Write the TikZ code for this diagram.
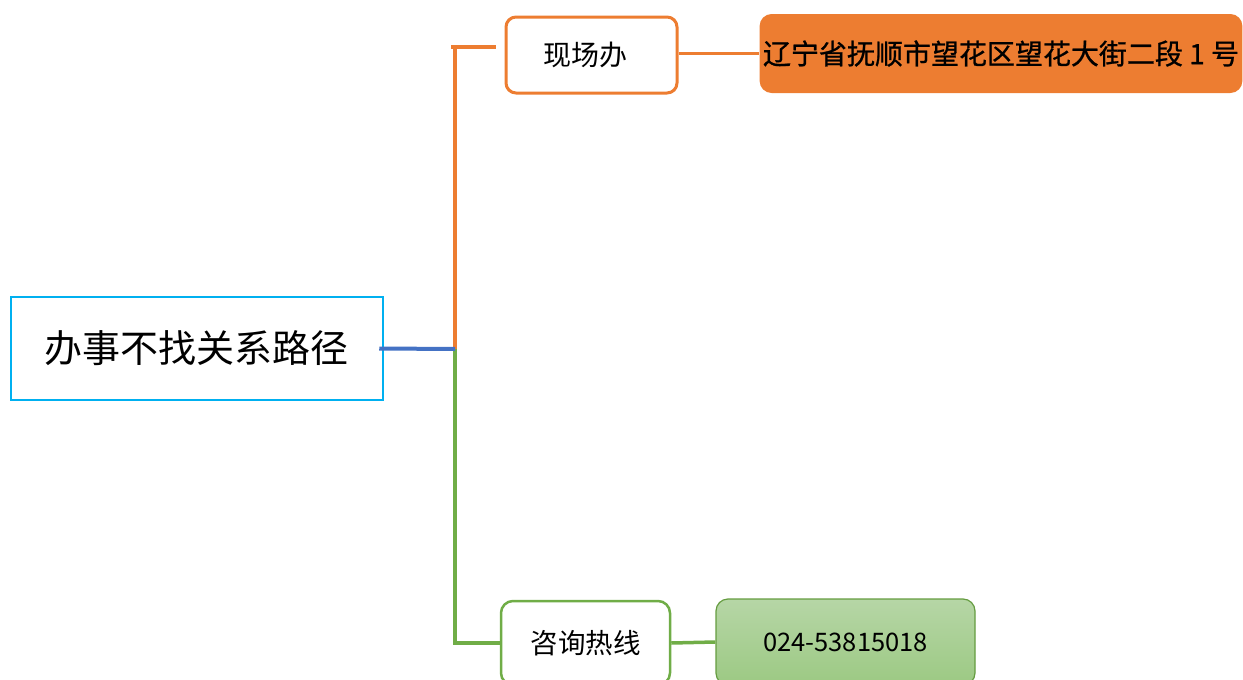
\documentclass[tikz,border=0pt]{standalone}
\usepackage{fontspec}
\newfontfamily\cjk{Noto Sans CJK SC}
\newfontfamily\cjkbold[FakeBold=0.9]{Noto Sans CJK SC}
\definecolor{orangeline}{HTML}{ED7D31}
\definecolor{greenline}{HTML}{70AD47}
\definecolor{greentop}{HTML}{B6D6A6}
\definecolor{greenbot}{HTML}{9CC983}
\definecolor{blueline}{HTML}{4472C4}
\definecolor{cyanframe}{HTML}{00B0F0}
\tikzset{
    rootbox/.style={draw=cyanframe, line width=2.5pt, fill=white, minimum width=372pt, minimum height=103pt, font=\cjk\fontsize{38}{42}\selectfont},
    sitebox/.style={draw=orangeline, line width=3pt, rounded corners=10pt, fill=white, minimum width=171pt, minimum height=76pt, font=\cjk\fontsize{28}{32}\selectfont},
    addrbox/.style={fill=orangeline, rounded corners=12pt, minimum width=482pt, minimum height=79pt, font=\cjkbold\fontsize{28}{32}\selectfont},
    hotbox/.style={draw=greenline, line width=2.5pt, rounded corners=12pt, fill=white, minimum width=169pt, minimum height=84pt, font=\cjk\fontsize{27.5}{32}\selectfont},
    phonebox/.style={draw=greenline!90!black, line width=1.2pt, rounded corners=12pt, top color=greentop, bottom color=greenbot, minimum width=259pt, minimum height=86pt, font=\cjk\fontsize{25.5}{30}\selectfont},
    link/.style={line width=3.5pt},
}
\begin{document}
\begin{tikzpicture}[x=1pt, y=-1pt]
    \useasboundingbox (0,0) rectangle (1243,680);
    % boxes
    \node[rootbox]  (root)    at (197,348.5) {办事不找关系路径};
    \node[sitebox]  (site)    at (591.5,55)  {\hspace*{-12pt}现场办};
    \node[addrbox]  (addr)    at (1001,53.5) {辽宁省抚顺市望花区望花大街二段 1 号};
    \node[hotbox]   (hotline) at (585.5,643) {咨询热线};
    \node[phonebox] (phone)   at (845.5,642) {024-53815018};
    \coordinate (fork) at (455,349);
    \coordinate (top)  at (455,47);
    % connectors
    \draw[link, orangeline] (fork) -- (top);
    \draw[link, orangeline] ([xshift=-4pt]top) -- ([xshift=-9pt]site.west |- top);
    \draw[link, greenline] (fork) |- (hotline.west);
    \draw[link, blueline, line width=4pt] ([xshift=-5pt]root.east) -- (fork);
    \draw[link, orangeline] (site.east |- addr.west) -- (addr.west);
    \draw[link, greenline] (hotline.east) -- (phone.west);
\end{tikzpicture}
\end{document}
